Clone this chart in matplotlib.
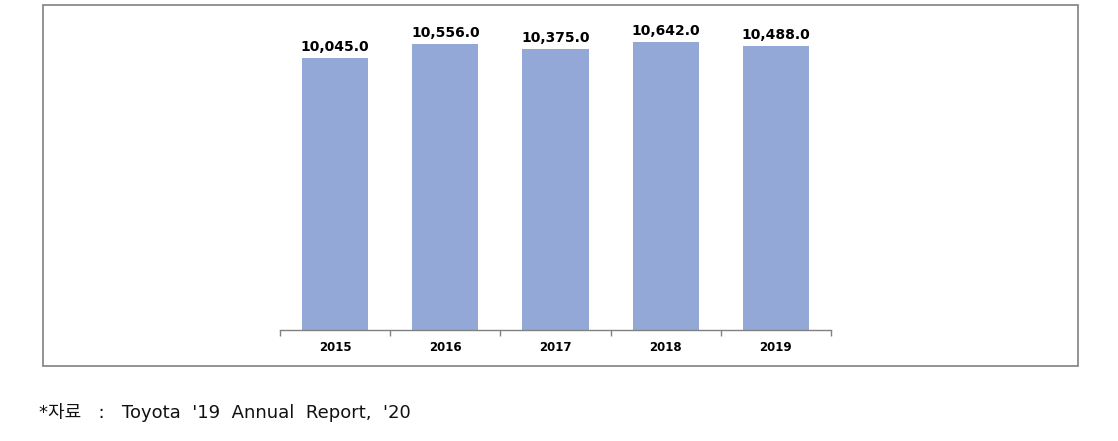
import matplotlib
matplotlib.use("Agg")
import matplotlib.pyplot as plt
from matplotlib.patches import Rectangle

years = ["2015", "2016", "2017", "2018", "2019"]
values = [10045.0, 10556.0, 10375.0, 10642.0, 10488.0]
source_note = "*자료   :   Toyota  '19  Annual  Report,  '20"

W, H = 1118, 441
fig = plt.figure(figsize=(W / 100, H / 100), dpi=100)
ax = fig.add_axes([280 / W, (H - 330) / H, (831 - 280) / W, 325 / H])

x = list(range(len(years)))
ax.bar(x, values, width=0.6, color="#94A8D8", zorder=2)
ax.set_xlim(-0.5, len(years) - 0.5)
ax.set_ylim(0, 12000)

for xi, v in zip(x, values):
    ax.annotate(f"{v:,.1f}", (xi, v), xytext=(0, 3), textcoords="offset points",
                ha="center", va="bottom", fontsize=10, fontweight="bold",
                family="DejaVu Sans", color="black")

for s in ["top", "right", "left"]:
    ax.spines[s].set_visible(False)
ax.spines["bottom"].set_color("#808080")
ax.spines["bottom"].set_linewidth(1.0)
ax.set_yticks([])
ax.set_xticks([i - 0.5 for i in range(len(years) + 1)], minor=False)
ax.set_xticklabels([""] * (len(years) + 1))
ax.tick_params(axis="x", direction="out", length=4, color="#808080", width=1)
for xi, yr in zip(x, years):
    ax.text(xi, -0.035, yr, transform=ax.get_xaxis_transform(), ha="center", va="top",
            fontsize=8.5, fontweight="bold", family="DejaVu Sans")

fig.patches.append(Rectangle((43 / W, (H - 366) / H), (1078 - 43) / W, (366 - 5) / H,
                             transform=fig.transFigure, fill=False,
                             edgecolor="#808080", linewidth=1.2))

fig.text(39 / W, (H - 413) / H, source_note, ha="left", va="center", fontsize=13,
         family=["DejaVu Sans", "Noto Sans CJK KR"], color="#111111")

fig.savefig("out.png", dpi=100)
